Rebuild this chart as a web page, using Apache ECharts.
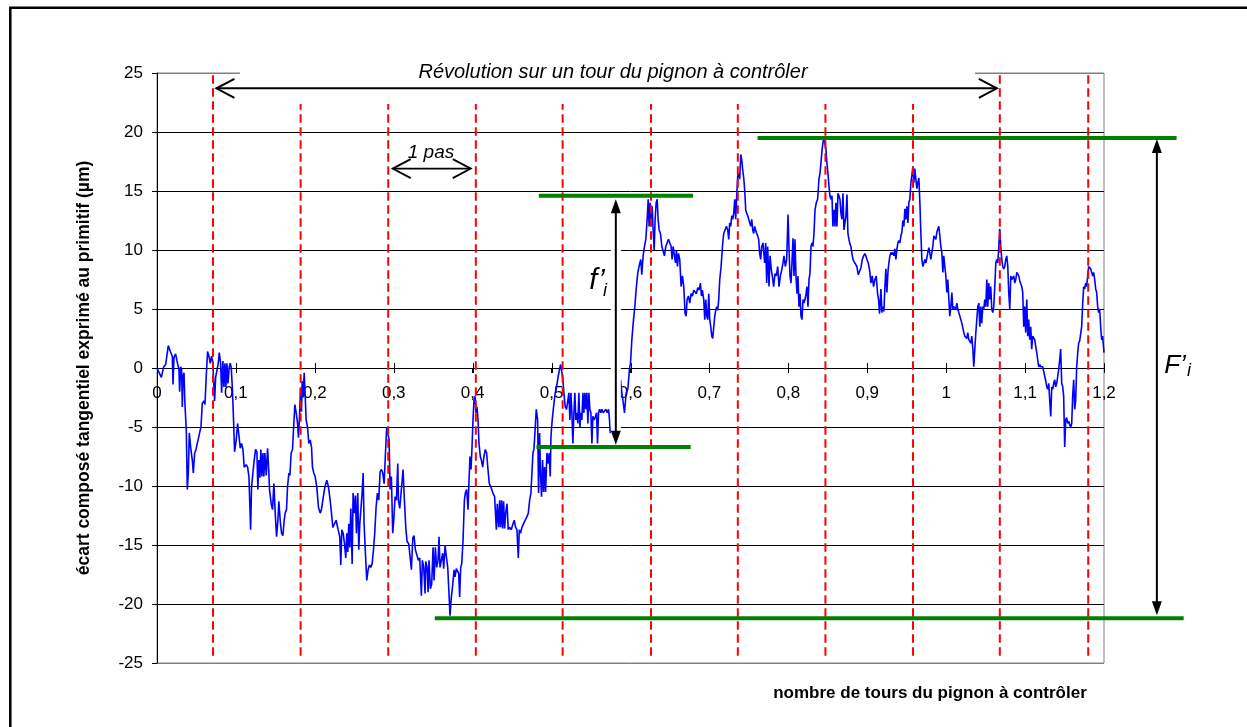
<!DOCTYPE html>
<html>
<head>
<meta charset="utf-8">
<title>Écart composé tangentiel</title>
<script src="https://cdn.jsdelivr.net/npm/echarts@6/dist/echarts.min.js"></script>
<style>
  html, body { margin: 0; padding: 0; background: #fff; }
  #chart { width: 1247px; height: 727px; }
</style>
</head>
<body>
<div id="chart"></div>
<script>
// Mesure : [nombre de tours du pignon, écart composé tangentiel (µm)]
const mesure = [
  [0,0],[0.0025,-0.1],[0.0055,-0.8],[0.0084,0.1],[0.011,0.3],[0.0143,1.9],[0.0169,1.4],[0.0194,1.0],[0.0203,-1.4],[0.0215,0.9],
  [0.0236,1.2],[0.0253,0.6],[0.027,0.1],[0.0278,-0.1],[0.0287,-2.0],[0.03,0.1],[0.0312,-0.1],[0.0321,-3.3],[0.0329,-0.7],[0.0342,-0.4],
  [0.0354,-3.1],[0.0371,-5.2],[0.0384,-10.3],[0.0397,-8.9],[0.0409,-5.5],[0.0426,-6.7],[0.0447,-7.8],[0.046,-8.9],[0.0477,-7.2],[0.0494,-6.9],
  [0.0515,-6.8],[0.054,-5.5],[0.0557,-5.0],[0.0574,-3.0],[0.0595,-2.8],[0.0608,-3.1],[0.0624,-0.7],[0.0641,1.4],[0.0658,1.0],[0.0675,0.4],
  [0.0692,1.0],[0.0709,0.4],[0.0717,-1.0],[0.073,-2.8],[0.0743,-0.8],[0.0759,-0.8],[0.0776,0.4],[0.0789,1.3],[0.0806,0.4],[0.0819,-2.1],
  [0.0835,0.6],[0.0848,-1.6],[0.0861,0.4],[0.0873,-1.6],[0.0886,0.4],[0.0899,-1.3],[0.0916,0.1],[0.0928,0.4],[0.0941,0.0],[0.0954,-1.6],
  [0.097,-4.4],[0.0983,-7.1],[0.1004,-6.1],[0.1021,-4.7],[0.1038,-5.7],[0.1055,-6.8],[0.1072,-6.4],[0.1089,-6.9],[0.1105,-8.4],[0.1131,-8.2],
  [0.1148,-8.4],[0.1165,-9.2],[0.1186,-13.7],[0.1198,-10.1],[0.1215,-8.9],[0.1232,-7.8],[0.1249,-6.9],[0.1266,-7.1],[0.1278,-10.3],[0.1291,-7.8],
  [0.1304,-9.3],[0.1316,-6.9],[0.1329,-9.2],[0.1342,-7.2],[0.1354,-9.2],[0.1367,-7.2],[0.1384,-9.1],[0.1401,-6.8],[0.1414,-8.4],[0.1426,-10.3],
  [0.1447,-11.5],[0.1464,-12.0],[0.1481,-9.8],[0.1498,-12.3],[0.1515,-14.3],[0.1532,-12.9],[0.1544,-11.3],[0.1561,-12.9],[0.1578,-14.0],[0.1595,-14.2],
  [0.1612,-12.9],[0.1624,-12.3],[0.1641,-12.0],[0.1654,-10.1],[0.1671,-8.9],[0.1684,-9.1],[0.17,-7.2],[0.1717,-6.9],[0.173,-5.2],[0.1747,-3.1],
  [0.1764,-3.8],[0.1781,-4.7],[0.1793,-5.9],[0.1806,-4.1],[0.1819,-1.7],[0.1831,-3.7],[0.184,-1.1],[0.1852,-2.5],[0.1865,-0.4],[0.1878,-2.4],
  [0.189,-4.4],[0.1907,-5.0],[0.1924,-6.4],[0.1941,-6.1],[0.1958,-6.7],[0.197,-8.4],[0.1987,-8.9],[0.2004,-9.2],[0.2025,-10.1],[0.2046,-11.8],
  [0.2068,-12.3],[0.2084,-12.0],[0.2101,-11.2],[0.2127,-10.1],[0.2152,-9.5],[0.2173,-10.1],[0.2194,-11.2],[0.2211,-12.3],[0.2228,-13.5],[0.2253,-13.5],
  [0.227,-12.9],[0.2295,-13.7],[0.2316,-14.3],[0.2329,-16.7],[0.2342,-13.7],[0.2359,-14.0],[0.2376,-14.9],[0.2392,-16.1],[0.2405,-14.0],[0.2418,-15.6],
  [0.243,-13.2],[0.2443,-15.2],[0.2456,-11.9],[0.2473,-16.6],[0.2485,-10.6],[0.2502,-12.3],[0.2515,-10.8],[0.2527,-14.0],[0.2544,-10.6],[0.2557,-15.4],
  [0.257,-13.2],[0.2586,-13.3],[0.2599,-10.6],[0.2612,-8.9],[0.2624,-13.2],[0.2641,-15.7],[0.2658,-18.0],[0.2675,-17.1],[0.2692,-16.7],[0.2709,-16.9],
  [0.2726,-16.6],[0.2743,-15.4],[0.2759,-14.0],[0.2776,-11.8],[0.2793,-10.6],[0.281,-11.2],[0.2827,-8.8],[0.2844,-8.6],[0.2861,-8.9],[0.2878,-9.8],
  [0.2895,-7.2],[0.2911,-5.0],[0.2928,-5.0],[0.2941,-6.1],[0.2954,-10.3],[0.297,-9.2],[0.2987,-14.0],[0.3,-12.9],[0.3017,-10.9],[0.3034,-11.2],
  [0.3051,-8.1],[0.3059,-11.2],[0.3076,-11.9],[0.3101,-12.0],[0.3118,-8.6],[0.3135,-11.2],[0.3152,-13.5],[0.3169,-14.7],[0.319,-14.9],[0.3207,-16.0],
  [0.3224,-17.1],[0.3241,-14.4],[0.3257,-14.2],[0.3274,-15.4],[0.3295,-15.4],[0.3312,-16.3],[0.3329,-16.1],[0.335,-19.3],[0.3363,-16.3],[0.338,-16.9],
  [0.3397,-19.1],[0.3405,-16.4],[0.3422,-16.9],[0.3435,-19.0],[0.3447,-16.3],[0.3464,-18.7],[0.3481,-18.3],[0.3498,-15.2],[0.3511,-18.0],[0.3527,-15.2],
  [0.3544,-16.9],[0.3561,-16.3],[0.3574,-14.3],[0.3586,-16.9],[0.3603,-16.3],[0.362,-15.7],[0.3633,-17.0],[0.365,-15.0],[0.3667,-16.0],[0.3684,-16.9],
  [0.37,-19.1],[0.3713,-21.0],[0.373,-19.4],[0.3747,-18.4],[0.3764,-17.1],[0.3776,-17.7],[0.3793,-17.0],[0.381,-17.1],[0.3823,-17.4],[0.3835,-19.4],
  [0.3848,-16.9],[0.3861,-16.6],[0.3878,-14.6],[0.3895,-11.2],[0.3907,-10.6],[0.3924,-10.3],[0.3941,-12.0],[0.3954,-9.5],[0.3966,-7.5],[0.3979,-8.6],
  [0.3992,-6.7],[0.4004,-4.4],[0.4017,-2.7],[0.403,-2.4],[0.4042,-3.8],[0.4055,-3.3],[0.4068,-4.4],[0.408,-6.4],[0.4097,-7.5],[0.411,-7.8],
  [0.4127,-8.4],[0.4143,-7.5],[0.416,-6.9],[0.4177,-7.2],[0.4194,-8.6],[0.4211,-9.8],[0.4232,-10.1],[0.4257,-10.6],[0.4278,-10.9],[0.43,-13.7],
  [0.4312,-11.5],[0.4329,-13.5],[0.4342,-11.2],[0.4354,-13.5],[0.4367,-11.2],[0.438,-13.6],[0.4392,-11.3],[0.4405,-13.6],[0.4418,-12.3],[0.4435,-11.5],
  [0.4451,-13.7],[0.4468,-13.5],[0.4489,-13.7],[0.4511,-13.2],[0.4527,-12.9],[0.4544,-13.5],[0.4561,-13.7],[0.4578,-16.1],[0.4591,-13.7],[0.4608,-14.0],
  [0.4624,-13.5],[0.4641,-13.6],[0.4658,-13.0],[0.4675,-12.9],[0.4688,-12.6],[0.4705,-12.3],[0.4722,-11.2],[0.4738,-10.6],[0.4751,-10.6],[0.4764,-7.2],
  [0.4776,-6.9],[0.4789,-5.5],[0.4806,-3.5],[0.4823,-4.4],[0.4835,-10.6],[0.4848,-5.5],[0.4861,-9.2],[0.4873,-10.9],[0.4886,-7.8],[0.4899,-10.5],
  [0.4911,-8.4],[0.4924,-10.5],[0.4941,-7.2],[0.4958,-8.1],[0.497,-7.2],[0.4983,-9.2],[0.4992,-5.8],[0.5008,-4.4],[0.5025,-3.3],[0.5046,-2.1],
  [0.5063,-1.6],[0.5084,-0.7],[0.5101,-0.1],[0.5114,0.3],[0.5131,-0.4],[0.5143,-1.0],[0.516,-2.4],[0.5173,-3.3],[0.519,-3.5],[0.5207,-2.7],
  [0.5219,-2.1],[0.5232,-4.4],[0.5245,-2.1],[0.5257,-3.8],[0.527,-6.4],[0.5283,-3.8],[0.5295,-2.1],[0.5308,-4.4],[0.5321,-3.8],[0.5333,-4.7],
  [0.5346,-2.1],[0.5359,-5.0],[0.5371,-3.8],[0.5384,-4.4],[0.5397,-2.1],[0.5409,-3.8],[0.5422,-2.1],[0.5435,-3.5],[0.5447,-2.1],[0.546,-4.7],
  [0.5473,-2.1],[0.5485,-3.5],[0.5498,-3.8],[0.5511,-6.4],[0.5523,-4.1],[0.554,-4.4],[0.5557,-4.1],[0.557,-3.8],[0.5582,-6.4],[0.5595,-3.8],
  [0.5608,-3.5],[0.5624,-3.8],[0.5637,-3.5],[0.5654,-3.8],[0.5671,-3.7],[0.5688,-3.5],[0.5705,-3.8],[0.5722,-3.5],[0.5734,-4.4],[0.5743,-5.5],
  [0.5776,-5.0],[0.5819,-3.8],[0.5861,-2.7],[0.5873,-1.0],[0.589,-2.1],[0.5903,-2.7],[0.5924,-3.8],[0.5945,-2.1],[0.5966,-1.8],[0.5987,-0.1],
  [0.6,0.4],[0.6017,2.4],[0.6038,4.1],[0.6055,5.2],[0.6072,6.7],[0.6093,8.1],[0.6097,8.0],[0.6118,8.9],[0.6131,9.2],[0.6143,7.9],
  [0.616,9.5],[0.6177,10.3],[0.6194,10.9],[0.6211,12.6],[0.6224,14.3],[0.6236,12.0],[0.6249,14.0],[0.6262,12.6],[0.6274,13.7],[0.6287,11.7],
  [0.63,10.0],[0.6312,12.6],[0.6325,14.0],[0.6338,14.3],[0.635,12.6],[0.6363,11.7],[0.638,11.4],[0.6397,10.3],[0.6414,10.3],[0.643,9.5],
  [0.6447,10.3],[0.6464,10.6],[0.6481,10.9],[0.6498,11.0],[0.6515,10.3],[0.6527,9.2],[0.654,10.3],[0.6557,10.3],[0.657,8.9],[0.6582,10.0],
  [0.6595,8.6],[0.6608,9.7],[0.6624,9.2],[0.6641,6.9],[0.6658,7.8],[0.6675,6.9],[0.6692,4.6],[0.6705,4.4],[0.6717,5.8],[0.6734,6.1],
  [0.6751,5.5],[0.6768,6.3],[0.6785,6.1],[0.6802,6.6],[0.6819,6.6],[0.6835,6.3],[0.6852,6.8],[0.6869,6.6],[0.6886,7.2],[0.6899,6.1],
  [0.6911,6.6],[0.6928,5.8],[0.6941,4.1],[0.6954,5.8],[0.6966,4.4],[0.6979,4.1],[0.6992,6.3],[0.7004,4.1],[0.7017,3.5],[0.703,2.7],
  [0.7042,2.5],[0.7055,3.5],[0.7068,4.4],[0.708,4.9],[0.7093,5.2],[0.7105,4.9],[0.7118,5.8],[0.7131,7.5],[0.7148,8.6],[0.7165,10.3],
  [0.7181,11.4],[0.7198,11.7],[0.7215,12.0],[0.7232,11.7],[0.7245,10.9],[0.7257,12.3],[0.727,12.0],[0.7283,12.9],[0.7295,12.6],[0.7308,13.1],
  [0.7321,14.3],[0.7333,12.6],[0.7346,14.6],[0.7359,16.3],[0.7371,16.5],[0.7384,16.0],[0.7397,18.1],[0.7409,17.7],[0.7422,16.8],[0.7435,16.1],
  [0.7447,15.1],[0.746,13.4],[0.7473,13.1],[0.7485,12.9],[0.7498,12.6],[0.7511,12.3],[0.7523,12.0],[0.7536,12.6],[0.7549,11.7],[0.7561,11.4],
  [0.7574,12.0],[0.7586,11.7],[0.7599,11.4],[0.7612,11.2],[0.7624,10.9],[0.7637,9.7],[0.765,9.2],[0.7662,10.3],[0.7679,10.6],[0.77,8.9],
  [0.7713,10.6],[0.7726,7.2],[0.7738,10.3],[0.7755,6.9],[0.7768,9.5],[0.7785,8.3],[0.7797,7.8],[0.7814,6.9],[0.7831,8.0],[0.7848,7.8],
  [0.7865,8.6],[0.7882,6.9],[0.7899,7.8],[0.7916,8.3],[0.7932,8.9],[0.7945,9.5],[0.7962,8.6],[0.7979,9.2],[0.7996,13.0],[0.8008,10.3],
  [0.8021,7.8],[0.8034,7.2],[0.8046,8.9],[0.8059,11.0],[0.8072,7.8],[0.8084,10.9],[0.8097,7.8],[0.811,6.3],[0.8122,7.8],[0.8135,5.2],
  [0.8148,6.3],[0.816,4.4],[0.8173,4.1],[0.8186,5.8],[0.8198,5.5],[0.8211,5.8],[0.8224,6.3],[0.8236,6.9],[0.8249,5.2],[0.8262,7.5],
  [0.8274,8.0],[0.8287,10.3],[0.83,10.6],[0.8312,10.3],[0.8325,11.4],[0.8338,13.4],[0.8354,14.0],[0.8371,14.3],[0.8388,16.0],[0.8401,16.5],
  [0.8414,17.4],[0.8426,18.4],[0.8439,19.1],[0.8451,19.5],[0.8464,19.4],[0.8477,18.5],[0.8489,17.4],[0.8502,16.5],[0.8515,15.4],[0.8527,14.6],
  [0.854,14.3],[0.8553,14.6],[0.8565,12.0],[0.8578,13.4],[0.8591,12.0],[0.8603,14.0],[0.8616,12.0],[0.8629,14.8],[0.8641,14.6],[0.8654,14.3],
  [0.8667,13.1],[0.8679,12.6],[0.8692,14.8],[0.8705,11.7],[0.8717,12.3],[0.873,12.9],[0.8743,14.7],[0.8755,11.4],[0.8768,10.9],[0.8781,10.5],
  [0.8793,10.3],[0.8806,9.7],[0.8819,9.2],[0.8835,9.0],[0.8852,8.9],[0.8869,8.6],[0.8886,7.9],[0.8903,8.0],[0.892,8.5],[0.8937,9.2],
  [0.8954,9.5],[0.897,9.7],[0.8983,9.5],[0.8996,9.2],[0.9013,8.9],[0.903,8.3],[0.9046,7.2],[0.9063,7.8],[0.908,6.9],[0.9097,7.5],
  [0.9114,7.8],[0.9131,6.3],[0.9143,5.8],[0.9156,4.6],[0.9173,6.7],[0.9186,4.7],[0.9198,5.2],[0.9211,4.8],[0.9224,6.9],[0.9236,8.4],
  [0.9249,6.4],[0.9262,8.1],[0.9274,8.9],[0.9287,9.5],[0.93,9.8],[0.9312,9.6],[0.9325,9.8],[0.9338,9.5],[0.935,10.1],[0.9363,9.2],
  [0.9376,10.1],[0.9388,10.6],[0.9401,10.8],[0.9414,10.6],[0.9426,11.2],[0.9439,11.5],[0.9451,12.5],[0.9464,12.0],[0.9477,13.5],[0.9489,12.6],
  [0.9502,13.7],[0.9515,12.3],[0.9527,14.0],[0.954,14.3],[0.9553,15.7],[0.9565,16.3],[0.9578,17.1],[0.9591,15.7],[0.9603,16.9],[0.9616,16.0],
  [0.9629,15.2],[0.9641,15.7],[0.9654,16.1],[0.9667,14.0],[0.9679,11.5],[0.9692,9.2],[0.9705,8.6],[0.9717,8.9],[0.973,9.2],[0.9743,8.9],
  [0.9755,8.9],[0.9768,9.8],[0.9781,10.2],[0.9793,10.1],[0.9806,9.2],[0.9819,9.8],[0.9831,10.3],[0.9844,11.2],[0.9857,11.3],[0.9869,10.9],
  [0.9882,11.5],[0.9895,11.8],[0.9907,12.0],[0.992,11.2],[0.9932,10.3],[0.9945,9.8],[0.9958,8.1],[0.997,9.5],[0.9983,8.6],[0.9996,7.8],
  [1.0008,6.4],[1.0021,7.5],[1.0034,5.8],[1.0046,4.4],[1.0059,5.2],[1.0072,6.4],[1.0084,5.0],[1.0097,5.2],[1.011,5.2],[1.0122,5.0],
  [1.0135,5.5],[1.0148,5.0],[1.016,4.7],[1.0173,4.4],[1.0186,4.1],[1.0198,3.8],[1.0211,3.7],[1.0224,3.0],[1.0236,2.7],[1.0249,2.7],
  [1.0262,2.5],[1.0274,3.0],[1.0287,2.4],[1.03,2.4],[1.0312,2.1],[1.0325,2.7],[1.0338,1.6],[1.035,0.1],[1.0363,1.6],[1.0376,3.0],
  [1.0388,4.1],[1.0401,5.2],[1.0414,5.5],[1.0426,3.5],[1.0439,5.2],[1.0451,3.8],[1.0464,5.2],[1.0477,5.0],[1.0489,5.8],[1.0502,5.2],
  [1.0515,7.5],[1.0527,5.2],[1.054,7.2],[1.0553,5.8],[1.0565,6.9],[1.0578,5.0],[1.0591,4.7],[1.0603,5.2],[1.0616,6.9],[1.0629,8.9],
  [1.0641,9.2],[1.0654,8.9],[1.0667,10.3],[1.0679,11.8],[1.0692,10.3],[1.0705,9.2],[1.0717,8.6],[1.073,8.4],[1.0743,8.6],[1.0755,9.2],
  [1.0768,9.5],[1.0781,8.6],[1.0793,6.4],[1.0806,5.0],[1.0819,7.8],[1.0831,7.5],[1.0844,7.5],[1.0857,7.8],[1.0869,7.2],[1.0882,7.5],
  [1.0895,8.1],[1.0907,8.2],[1.092,7.8],[1.0932,7.4],[1.0945,7.5],[1.0958,6.9],[1.097,6.4],[1.0983,3.5],[1.0996,5.2],[1.1008,3.0],
  [1.1021,5.8],[1.1034,2.7],[1.1046,4.1],[1.1059,2.4],[1.1072,3.5],[1.1084,1.6],[1.1097,2.7],[1.111,2.7],[1.1122,2.4],[1.1135,1.8],
  [1.1148,1.3],[1.116,0.7],[1.1173,0.1],[1.1186,0.3],[1.1198,0.1],[1.1211,0.0],[1.1224,0.1],[1.1236,-0.3],[1.1249,-0.7],[1.1262,-1.1],
  [1.1274,-1.6],[1.1287,-1.8],[1.13,-1.3],[1.1312,-2.7],[1.1325,-4.1],[1.1338,-1.6],[1.135,-1.8],[1.1363,-1.3],[1.1376,-1.0],[1.1388,-1.6],
  [1.1401,-1.3],[1.1414,-0.7],[1.1426,-0.1],[1.1439,0.7],[1.1451,1.6],[1.1464,-1.3],[1.1477,-1.6],[1.1489,-2.4],[1.1502,-6.7],[1.1515,-4.4],
  [1.1527,-4.2],[1.154,-4.7],[1.1553,-4.5],[1.1565,-4.8],[1.1578,-5.0],[1.1591,-4.7],[1.1603,-2.4],[1.1616,-1.0],[1.1629,-3.5],[1.1641,-2.7],
  [1.1654,0.1],[1.1667,1.3],[1.1679,2.1],[1.1692,2.3],[1.1705,2.4],[1.1717,3.5],[1.173,5.5],[1.1743,6.9],[1.1755,6.7],[1.1768,7.2],
  [1.1781,6.9],[1.1793,7.8],[1.1806,8.6],[1.1819,8.6],[1.1831,8.4],[1.1844,8.1],[1.1857,7.8],[1.1869,8.1],[1.1882,7.5],[1.1895,6.7],
  [1.1907,6.4],[1.192,5.2],[1.1932,4.7],[1.1945,5.0],[1.1958,3.5],[1.197,2.4],[1.1983,2.7],[1.1996,1.6],[1.2,1.3]
];

// Axes
const axeTours = { min: 0, max: 1.2, pas: 0.1 };
const axeEcart = { min: -25, max: 25, pas: 5 };
// graduations du nombre de tours, écrites sur la ligne du zéro
const graduationsTours = [0, 0.1, 0.2, 0.3, 0.4, 0.5, 0.6, 0.7, 0.8, 0.9, 1, 1.1, 1.2];

// Engrènement de chaque dent (pas angulaire du pignon)
const dents = [0.071, 0.182, 0.293, 0.404, 0.514, 0.626, 0.736, 0.847, 0.958, 1.068, 1.180];
const dentsHaut = 24.8, dentsBas = -24.6;

// Niveaux extrêmes [début, fin, écart]
const niveaux = [
  [0.4838, 0.6793, 14.6],
  [0.4808, 0.6762, -6.7],
  [0.761, 1.292, 19.5],
  [0.352, 1.301, -21.2]
];

// Cotes verticales [tour, haut, bas]
const coteFi = [0.5814, 14.3, -6.5];
const coteFI = [1.267, 19.4, -20.95];

// Cotes horizontales [début, fin, écart]
const coteRevolution = [0.0753, 1.0642, 23.7];
const cotePas = [0.2987, 0.3976, 16.9];

const textes = {
  revolution: 'Révolution sur un tour du pignon à contrôler',
  pas: '1 pas',
  axeX: 'nombre de tours du pignon à contrôler',
  axeY: 'écart composé tangentiel exprimé au primitif (µm)'
};

const FONT = '"Liberation Sans", Arial, sans-serif';

const chart = echarts.init(document.getElementById('chart'), null, { renderer: 'canvas' });

const ySplitColors = [];
for (let v = axeEcart.min; v <= axeEcart.max; v += axeEcart.pas) {
  ySplitColors.push(v === axeEcart.min || v === axeEcart.max ? '#808080' : '#000000');
}

const fmtTours = v => String(v).replace('.', ',');

chart.setOption({
  animation: false,
  backgroundColor: '#ffffff',
  grid: {
    left: 157, right: 143, top: 73, bottom: 64,
    show: true, borderColor: '#808080', borderWidth: 1,
    containLabel: false, outerBoundsMode: 'none'
  },
  xAxis: {
    type: 'value',
    position: 'bottom',
    min: axeTours.min, max: axeTours.max, interval: axeTours.pas,
    axisLine: { show: true, onZero: true, lineStyle: { color: '#000', width: 1 } },
    axisTick: { show: true, length: 5, inside: false, lineStyle: { color: '#000', width: 1 } },
    axisLabel: { show: false },
    splitLine: { show: false }
  },
  yAxis: {
    type: 'value',
    position: 'left',
    min: axeEcart.min, max: axeEcart.max, interval: axeEcart.pas,
    axisLine: { show: true, onZero: false, lineStyle: { color: '#000', width: 1 } },
    axisTick: { show: true, length: 5, inside: false, lineStyle: { color: '#000', width: 1 } },
    axisLabel: {
      show: true, margin: 14, color: '#000', fontSize: 17, fontFamily: FONT,
      showMinLabel: true, showMaxLabel: true
    },
    splitLine: { show: true, lineStyle: { color: ySplitColors, width: 1 } }
  },
  series: [{
    type: 'line',
    data: mesure,
    showSymbol: false,
    symbol: 'none',
    smooth: false,
    sampling: null,
    lineStyle: { color: '#0000ff', width: 1.6 },
    z: 2
  }]
});

// Annotations placed through the chart's own coordinate system
const pt = (x, y) => chart.convertToPixel({ gridIndex: 0 }, [x, y]);
const els = [];

// outer frame
els.push({
  type: 'rect', silent: true, z: 30,
  shape: { x: 10.3, y: 7.8, width: 1600, height: 1000 },
  style: { fill: 'none', stroke: '#000', lineWidth: 2.5 }
});

// crossing ticks and labels along the zero line (drawn beneath the curve)
graduationsTours.forEach(v => {
  const p = pt(v, 0);
  const x = Math.round(p[0]) + 0.5;
  if (v > 0) {
    els.push({
      type: 'line', silent: true, z: 1,
      shape: { x1: x, y1: p[1] - 5, x2: x, y2: p[1] + 5 },
      style: { stroke: '#000', lineWidth: 1 }
    });
  }
  els.push({
    type: 'text', silent: true, z: 1, x: p[0], y: p[1] + 17,
    style: {
      text: fmtTours(v), font: '17px ' + FONT, fill: '#000',
      align: 'center', verticalAlign: 'top'
    }
  });
});

// tooth engagement lines
dents.forEach(d => {
  const a = pt(d, dentsHaut), b = pt(d, dentsBas);
  els.push({
    type: 'line', silent: true, z: 5,
    shape: { x1: a[0], y1: a[1], x2: b[0], y2: b[1] },
    style: { stroke: '#ff0000', lineWidth: 2, lineDash: [8.5, 4.5] }
  });
});

// caption box of the revolution arrow
els.push({
  type: 'rect', silent: true, z: 8,
  shape: { x: 240, y: 50, width: 735, height: 54 },
  style: { fill: '#ffffff' }
});

// extreme levels
niveaux.forEach(([x0, x1, y]) => {
  const a = pt(x0, y), b = pt(x1, y);
  els.push({
    type: 'line', silent: true, z: 10,
    shape: { x1: a[0], y1: a[1], x2: b[0], y2: b[1] },
    style: { stroke: '#008000', lineWidth: 4 }
  });
});

function flecheHorizontale([x0, x1, y], lw) {
  const a = pt(x0, y), b = pt(x1, y);
  const L = 18, H = 9.5;
  els.push({
    type: 'line', silent: true, z: 12,
    shape: { x1: a[0], y1: a[1], x2: b[0], y2: b[1] },
    style: { stroke: '#000', lineWidth: lw }
  });
  els.push({
    type: 'polyline', silent: true, z: 12,
    shape: { points: [[a[0] + L, a[1] - H], [a[0], a[1]], [a[0] + L, a[1] + H]] },
    style: { stroke: '#000', lineWidth: lw, fill: null }
  });
  els.push({
    type: 'polyline', silent: true, z: 12,
    shape: { points: [[b[0] - L, b[1] - H], [b[0], b[1]], [b[0] - L, b[1] + H]] },
    style: { stroke: '#000', lineWidth: lw, fill: null }
  });
}

function flecheVerticale([x, yh, yb], masque) {
  const a = pt(x, yh), b = pt(x, yb);
  const L = 14, H = 5;
  if (masque) {
    els.push({
      type: 'rect', silent: true, z: 9,
      shape: { x: a[0] - 5, y: a[1], width: 10, height: b[1] - a[1] },
      style: { fill: '#ffffff' }
    });
  }
  els.push({
    type: 'line', silent: true, z: 12,
    shape: { x1: a[0], y1: a[1] + L - 1, x2: b[0], y2: b[1] - L + 1 },
    style: { stroke: '#000', lineWidth: 2 }
  });
  els.push({
    type: 'polygon', silent: true, z: 12,
    shape: { points: [[a[0], a[1]], [a[0] - H, a[1] + L], [a[0] + H, a[1] + L]] },
    style: { fill: '#000' }
  });
  els.push({
    type: 'polygon', silent: true, z: 12,
    shape: { points: [[b[0], b[1]], [b[0] - H, b[1] - L], [b[0] + H, b[1] - L]] },
    style: { fill: '#000' }
  });
}

flecheHorizontale(coteRevolution, 2);
flecheHorizontale(cotePas, 1.8);
flecheVerticale(coteFi, true);
flecheVerticale(coteFI, false);

function texte(str, x, y, font, extra) {
  els.push(Object.assign({
    type: 'text', silent: true, z: 14, x: x, y: y,
    style: { text: str, font: font, fill: '#000', align: 'center', verticalAlign: 'middle' }
  }, extra || {}));
}

texte(textes.revolution, 613, 72, 'italic 20px ' + FONT);
texte(textes.pas, 431, 153, 'italic 19px ' + FONT);
texte('f’', 597, 281, 'italic 29px ' + FONT);
texte('i', 605, 291, 'italic 18px ' + FONT);
texte('F’', 1175, 366, 'italic 26px ' + FONT);
texte('i', 1189, 371, 'italic 18px ' + FONT);
texte(textes.axeX, 930, 693, 'bold 17px ' + FONT);
texte(textes.axeY, 84, 368, 'bold 17.5px ' + FONT, { rotation: Math.PI / 2 });

chart.setOption({ graphic: { elements: els } });
</script>
</body>
</html>
